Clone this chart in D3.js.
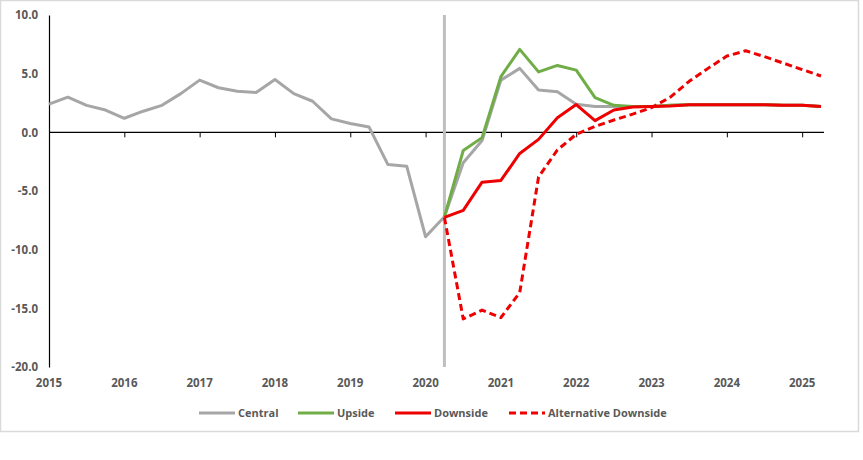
<!DOCTYPE html>
<html>
<head>
<meta charset="utf-8">
<script src="https://cdn.jsdelivr.net/npm/d3@7"></script>
<style>
  html, body { margin: 0; padding: 0; background: #fff; }
  svg { display: block; }
  text { font-family: "Open Sans", "DejaVu Sans", sans-serif; font-weight: 700; fill: #595959; }
</style>
</head>
<body>
<svg id="chart" width="863" height="460"></svg>
<script>
// ---- Data (quarterly, 2015 Q1 .. 2025 Q2) ----
const years = [2015, 2016, 2017, 2018, 2019, 2020, 2021, 2022, 2023, 2024, 2025];
const quarters = [];
for (const yr of years) for (let q = 1; q <= 4; q++) quarters.push(yr + "Q" + q);
quarters.length = 42;

const central = [2.4, 3.0, 2.3, 1.9, 1.2, 1.8, 2.3, 3.3, 4.45, 3.8, 3.5, 3.4,
  4.5, 3.3, 2.65, 1.15, 0.75, 0.45, -2.75, -2.9, -8.9, -7.2, -2.6, -0.7,
  4.45, 5.45, 3.6, 3.45, 2.4, 2.2, 2.2, 2.2, 2.2, 2.3, 2.35, 2.35,
  2.35, 2.35, 2.35, 2.3, 2.3, 2.2];
const upside = [null, null, null, null, null, null, null, null, null, null, null, null,
  null, null, null, null, null, null, null, null, null, -7.2, -1.55, -0.45,
  4.75, 7.07, 5.15, 5.7, 5.3, 2.95, 2.3, 2.2, 2.2, 2.3, 2.35, 2.35,
  2.35, 2.35, 2.35, 2.3, 2.3, 2.2];
const downside = [null, null, null, null, null, null, null, null, null, null, null, null,
  null, null, null, null, null, null, null, null, null, -7.25, -6.65, -4.25,
  -4.1, -1.8, -0.6, 1.25, 2.37, 1.0, 1.9, 2.15, 2.2, 2.25, 2.35, 2.35,
  2.35, 2.35, 2.35, 2.3, 2.3, 2.2];
const altDownside = [null, null, null, null, null, null, null, null, null, null, null, null,
  null, null, null, null, null, null, null, null, null, -7.25, -15.9, -15.15,
  -15.8, -13.65, -3.8, -1.5, -0.17, 0.5, 1.05, 1.55, 2.1, 3.0, 4.35, 5.45,
  6.5, 6.95, 6.45, 5.9, 5.35, 4.8];
const yTicks = [10, 5, 0, -5, -10, -15, -20];
const markerQuarter = "2020Q2";

const seriesList = [
  { name: "Central", values: central, color: "#A6A6A6", dash: null },
  { name: "Upside", values: upside, color: "#70AD47", dash: null },
  { name: "Downside", values: downside, color: "#EE0000", dash: null },
  { name: "Alternative Downside", values: altDownside, color: "#EE0000", dash: "7,4" }
];

// ---- Layout ----
const svg = d3.select("#chart");
const mLeft = 49, mRight = 821, mTop = 15, mBottom = 367;

const x = d3.scalePoint().domain(quarters).range([mLeft, mRight]);
const y = d3.scaleLinear().domain([-20, 10]).range([mBottom, mTop]);

// outer border
svg.append("rect").attr("x", 0.5).attr("y", 0.5).attr("width", 858).attr("height", 431)
  .attr("fill", "#fff").attr("stroke", "#D9D9D9").attr("stroke-width", 1.5);

// y axis (labels only, plus line)
const yAxis = d3.axisLeft(y).tickValues(yTicks).tickSize(0).tickPadding(11)
  .tickFormat(d => d.toFixed(1));
const yg = svg.append("g").attr("transform", `translate(${mLeft},0)`).call(yAxis);
yg.select(".domain").attr("stroke", "#000").attr("stroke-width", 1.2);
yg.selectAll("text").style("font-size", "11.5px").attr("fill", "#595959")
  .style("font-family", "'Open Sans', sans-serif").style("font-weight", 700);

// x axis at zero with tick marks; labels at bottom
const yearQuarters = years.map(yr => yr + "Q1");
const xAxis = d3.axisBottom(x).tickValues(yearQuarters).tickSize(5).tickFormat("");
const xg = svg.append("g").attr("transform", `translate(0,${y(0)})`).call(xAxis);
xg.select(".domain").attr("d", `M${mLeft},0H${mRight + 3}`).attr("stroke", "#000").attr("stroke-width", 1.2);
xg.selectAll(".tick line").attr("stroke", "#000");

svg.append("g").selectAll("text").data(years).join("text")
  .attr("x", d => x(d + "Q1")).attr("y", 387)
  .attr("text-anchor", "middle").style("font-size", "11.5px").text(d => d);

// vertical marker line
svg.append("line")
  .attr("x1", x(markerQuarter)).attr("x2", x(markerQuarter))
  .attr("y1", mTop).attr("y2", mBottom)
  .attr("stroke", "#BFBFBF").attr("stroke-width", 3);

// series lines
const line = d3.line()
  .defined(d => d.v !== null)
  .x(d => x(d.q)).y(d => y(d.v));

for (const s of seriesList) {
  svg.append("path")
    .datum(quarters.map((q, i) => ({ q, v: s.values[i] })))
    .attr("fill", "none")
    .attr("stroke", s.color)
    .attr("stroke-width", 3)
    .attr("stroke-linejoin", "round")
    .attr("stroke-dasharray", s.dash)
    .attr("d", line);
}

// legend
const legendItems = [
  { s: seriesList[0], x0: 199 },
  { s: seriesList[1], x0: 298 },
  { s: seriesList[2], x0: 395 },
  { s: seriesList[3], x0: 509 }
];
const ly = 413;
const lg = svg.append("g");
legendItems.forEach(it => {
  lg.append("line").attr("x1", it.x0).attr("x2", it.x0 + 36)
    .attr("y1", ly).attr("y2", ly)
    .attr("stroke", it.s.color).attr("stroke-width", 3)
    .attr("stroke-dasharray", it.s.dash ? "7,4" : null);
  lg.append("text").attr("x", it.x0 + 39).attr("y", ly + 4)
    .style("font-size", "11px").text(it.s.name);
});
</script>
</body>
</html>
